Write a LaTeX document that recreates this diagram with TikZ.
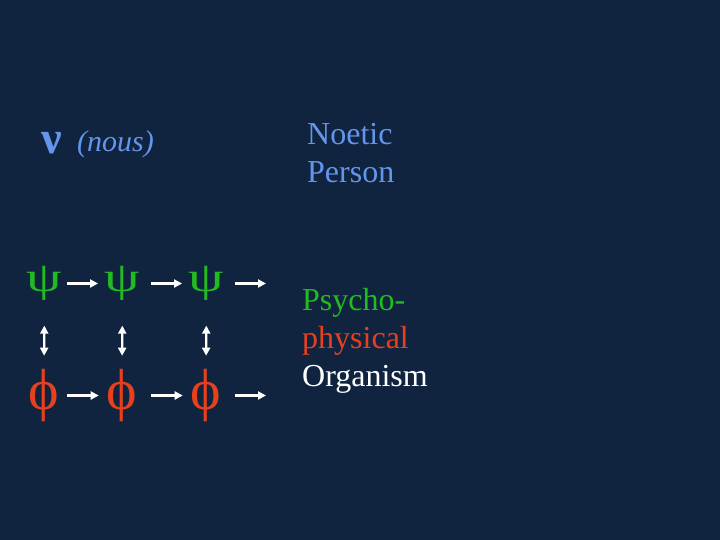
\documentclass[tikz,border=0pt]{standalone}
\usepackage{fontspec}
\setmainfont{Liberation Serif}
\usetikzlibrary{arrows.meta}
\definecolor{bgnavy}{RGB}{16,36,63}
\definecolor{nousblue}{RGB}{100,149,237}
\definecolor{psigreen}{RGB}{34,187,34}
\definecolor{phired}{RGB}{232,64,28}
\tikzset{
  glyph/.style={inner sep=0pt, outer sep=0pt},
  psiglyph/.style={glyph, text=psigreen, font=\fontsize{42}{42}\selectfont},
  phiglyph/.style={glyph, text=phired, font=\fontsize{58}{58}\selectfont},
  label32/.style={inner sep=0pt, anchor=base west, font=\fontsize{32}{38}\selectfont},
  flow/.style={draw=white, line width=2.2pt, -{Triangle[length=8pt,width=8pt]}},
  link/.style={draw=white, line width=2.2pt, {Triangle[length=8pt,width=8pt]}-{Triangle[length=8pt,width=8pt]}},
}
\newcommand{\widepsi}{\scalebox{1.35}[1]{ψ}}
\begin{document}
\begin{tikzpicture}[x=1pt,y=-1pt]
\fill[bgnavy] (0,0) rectangle (720,540);
\useasboundingbox (0,0) rectangle (720,540);
% nous
\node[glyph, text=nousblue, anchor=base, font=\fontsize{46}{46}\selectfont\bfseries] (nu) at (52,153.5) {ν};
\node[label32, text=nousblue, font=\fontsize{30}{36}\selectfont\itshape] (nous) at (77,152) {(nous)};
\node[label32, text=nousblue] (noetic) at (307,145) {Noetic};
\node[label32, text=nousblue] (person) at (307,183) {Person};
% psycho-physical
\node[label32, text=psigreen] (psycho) at (302,310) {Psycho-};
\node[label32, text=phired] (physical) at (302,348) {physical};
\node[label32, text=white] (organism) at (302,386) {Organism};
% psi row
\node[psiglyph, minimum width=35pt] (psi1) at (44.5,283.5) {\widepsi};
\node[psiglyph, minimum width=35pt] (psi2) at (122.5,283.5) {\widepsi};
\node[psiglyph, minimum width=35pt] (psi3) at (206.5,283.5) {\widepsi};
\coordinate (psiend) at (266,283.5);
% phi row
\node[phiglyph, minimum width=26pt] (phi1) at (44,395.5) {ϕ};
\node[phiglyph, minimum width=26pt] (phi2) at (122,395.5) {ϕ};
\node[phiglyph, minimum width=26pt] (phi3) at (206,395.5) {ϕ};
\coordinate (phiend) at (266,395.5);
% horizontal arrows
\draw[flow, shorten <=5pt, shorten >=6.7pt] (psi1.east) -- (psi2.west);
\draw[flow, shorten <=11pt, shorten >=6.7pt] (psi2.east) -- (psi3.west);
\draw[flow, shorten <=11pt] (psi3.east) -- (psiend);
\draw[flow, shorten <=8pt, shorten >=8pt] (phi1.east) -- (phi2.west);
\draw[flow, shorten <=14pt, shorten >=8pt] (phi2.east) -- (phi3.west);
\draw[flow, shorten <=14pt] (phi3.east) -- (phiend);
% vertical links
\draw[link, shorten <=25pt, shorten >=13.5pt] (psi1.south) -- (phi1.north);
\draw[link, shorten <=25pt, shorten >=13.5pt] (psi2.south) -- (phi2.north);
\draw[link, shorten <=25pt, shorten >=13.5pt] (psi3.south) -- (phi3.north);
\end{tikzpicture}
\end{document}
